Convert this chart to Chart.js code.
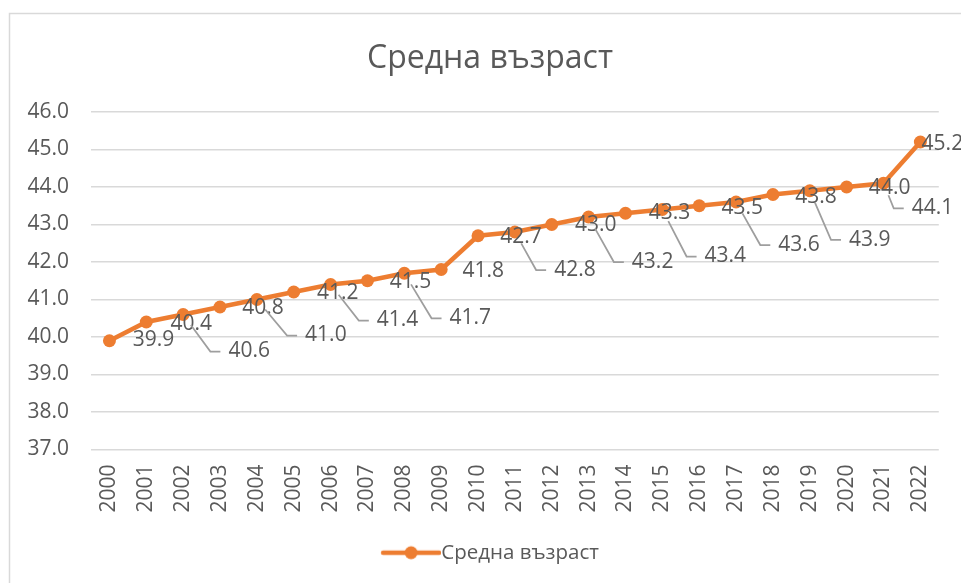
<!DOCTYPE html>
<html>
<head>
<meta charset="utf-8">
<script src="https://cdn.jsdelivr.net/npm/chart.js@4"></script>
<style>
  html, body { margin: 0; padding: 0; background: #fff; }
  #wrap { width: 961px; height: 583px; }
</style>
</head>
<body>
<div id="wrap"><canvas id="ageChart" width="961" height="583"></canvas></div>
<script>
const years = ["2000", "2001", "2002", "2003", "2004", "2005", "2006", "2007", "2008", "2009", "2010",
    "2011", "2012", "2013", "2014", "2015", "2016", "2017", "2018", "2019", "2020", "2021", "2022"];
const avgAge = [39.9, 40.4, 40.6, 40.8, 41.0, 41.2, 41.4, 41.5, 41.7, 41.8, 42.7,
    42.8, 43.0, 43.2, 43.3, 43.4, 43.5, 43.6, 43.8, 43.9, 44.0, 44.1, 45.2];
const yMin = 37;
const yMax = 46;
const seriesName = "Средна възраст";

// отместване на етикетите спрямо точката (като в Excel, с водещи линии)
const labelNudge = [[44, -1], [45, 2], [66, 37], [43, 1], [69, 36], [44, 1], [67, 36], [43, 1],
    [66, 45], [42, 2], [43, 1], [60, 38], [44, 1], [64, 45], [44, 0], [63, 47], [43, 2],
    [63, 43], [43, 3], [60, 49], [43, 1], [49, 25], [22, 2]];

const orange = "#ed7d31";
const textGrey = "#595959";
const fontName = "'Open Sans', 'Noto Sans', sans-serif";

// иконка за легендата: линия с кръгче (отляво има празно място)
const legendIcon = document.createElement("canvas");
legendIcon.width = 70;
legendIcon.height = 16;
(function() {
    const c = legendIcon.getContext("2d");
    c.strokeStyle = orange;
    c.lineWidth = 4.5;
    c.lineCap = "round";
    c.beginPath();
    c.moveTo(12, 8);
    c.lineTo(68, 8);
    c.stroke();
    c.fillStyle = orange;
    c.beginPath();
    c.arc(40, 8, 6.5, 0, Math.PI * 2);
    c.fill();
})();

const frame = {
    id: "frame",
    beforeDraw(chart) {
        const c = chart.ctx;
        c.save();
        c.fillStyle = "#fff";
        c.fillRect(0, 0, chart.width, chart.height);
        c.strokeStyle = "#d9d9d9";
        c.lineWidth = 1.5;
        c.strokeRect(9.5, 13.5, 1000, 1000);
        c.restore();
    }
};

const valueLabels = {
    id: "valueLabels",
    afterDatasetsDraw(chart) {
        const c = chart.ctx;
        const pts = chart.getDatasetMeta(0).data;
        c.save();
        c.font = "21px " + fontName;
        c.textAlign = "center";
        c.textBaseline = "middle";
        pts.forEach((p, i) => {
            const txt = avgAge[i].toFixed(1);
            const cx = p.x + labelNudge[i][0];
            const cy = p.y + labelNudge[i][1];
            const w = c.measureText(txt).width;
            if (labelNudge[i][1] > 15) {
                const left = cx - w / 2;
                const ex = left - 18, endX = left - 8;
                const dx = ex - p.x, dy = cy - p.y;
                const d = Math.sqrt(dx * dx + dy * dy);
                c.strokeStyle = "#9e9e9e";
                c.lineWidth = 1.75;
                c.beginPath();
                c.moveTo(p.x + dx / d * 13, p.y + dy / d * 13);
                c.lineTo(ex, cy);
                c.lineTo(endX, cy);
                c.stroke();
            }
            c.fillStyle = textGrey;
            c.fillText(txt, cx, cy);
        });
        c.restore();
    }
};

const ctx = document.getElementById("ageChart").getContext("2d");
const ageChart = new Chart(ctx, {
    type: "line",
    data: {
        labels: years,
        datasets: [{
            label: seriesName,
            data: avgAge,
            borderColor: orange,
            backgroundColor: orange,
            borderWidth: 4.5,
            pointRadius: 6.5,
            pointBackgroundColor: orange,
            pointBorderWidth: 0,
            tension: 0,
            clip: false
        }]
    },
    options: {
        responsive: false,
        animation: false,
        layout: { padding: { left: 20, right: 1, top: 0, bottom: 10 } },
        plugins: {
            title: {
                display: true,
                text: seriesName,
                color: textGrey,
                font: { family: fontName, size: 32, weight: "normal" },
                padding: { top: 40, bottom: 33.6 }
            },
            legend: {
                position: "bottom",
                labels: {
                    usePointStyle: true,
                    pointStyle: legendIcon,
                    pointStyleWidth: 50,
                    color: textGrey,
                    font: { family: fontName, size: 20.5 },
                    padding: 10
                }
            },
            tooltip: { enabled: false }
        },
        scales: {
            x: {
                offset: true,
                grid: { display: false, drawTicks: false },
                border: { display: false },
                ticks: {
                    color: textGrey,
                    font: { family: fontName, size: 21 },
                    minRotation: 90,
                    maxRotation: 90,
                    padding: 15,
                    autoSkip: false
                },
                afterFit(scale) { scale.height = 83; }
            },
            y: {
                min: yMin,
                max: yMax,
                grid: { color: "#d9d9d9", lineWidth: 1.5, drawTicks: false },
                border: { display: false },
                ticks: {
                    stepSize: 1,
                    color: textGrey,
                    font: { family: fontName, size: 21 },
                    padding: 22,
                    callback: v => v.toFixed(1)
                },
                afterFit(scale) { scale.width = 71; }
            },
            // празна дясна ос, само за да остане място вдясно
            yRight: {
                position: "right",
                grid: { display: false, drawTicks: false },
                border: { display: false },
                ticks: { display: false },
                afterFit(scale) { scale.width = 19; }
            }
        }
    },
    plugins: [frame, valueLabels]
});
</script>
</body>
</html>
